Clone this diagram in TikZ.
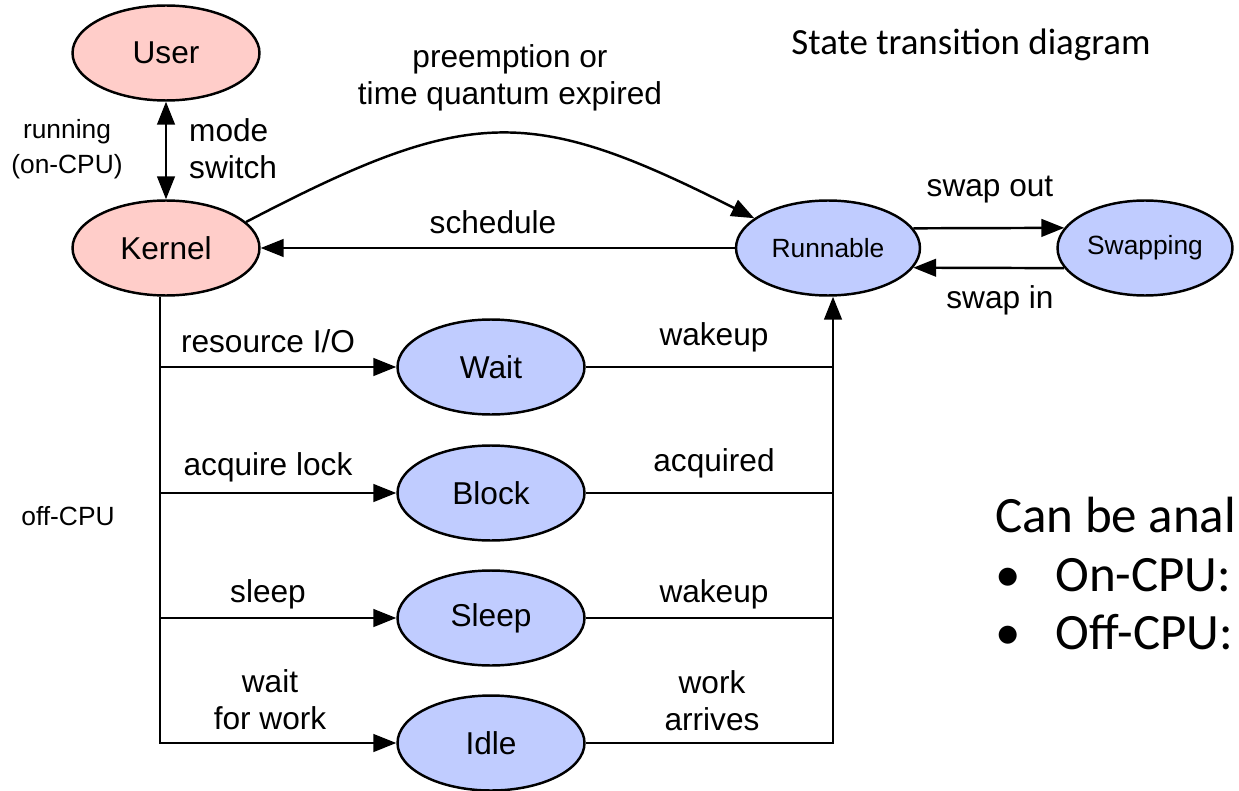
\documentclass[tikz,border=0pt]{standalone}
\usepackage{fontspec}
\setmainfont{Liberation Sans}
\newfontfamily\slidefont{Carlito}
\usepackage{xcolor}
\usetikzlibrary{shapes.geometric}
\usetikzlibrary{arrows.meta}
\definecolor{onpink}{RGB}{255,205,201}
\definecolor{offblue}{RGB}{192,204,255}

\begin{document}
\begin{tikzpicture}[x=0.02cm,y=-0.02cm,
    >={Triangle[length=13pt,width=10pt]},
    state/.style={ellipse,draw,line width=1.4pt,inner sep=0pt,
      minimum width=3.74cm,minimum height=1.9cm,font=\fontsize{18}{21}\selectfont},
    onstate/.style={state,fill=onpink},
    offstate/.style={state,fill=offblue},
    wire/.style={line width=1.4pt},
    lbl/.style={font=\fontsize{18}{21}\selectfont,align=center},
    small/.style={font=\fontsize{15}{20}\selectfont,align=center},
    slide/.style={font=\slidefont\fontsize{29}{35}\selectfont,anchor=base west,inner sep=0pt}]
        \useasboundingbox (0,0) rectangle (1239,790);

        % 状態
        \node[onstate] (User) at (166,53) {User};
        \node[onstate] (Kernel) at (166,248) {Kernel};
        \node[offstate,minimum width=3.68cm,font=\fontsize{15}{18}\selectfont] (Runnable) at (828,248) {Runnable};
        \node[offstate,minimum width=3.5cm,font=\fontsize{15}{18}\selectfont] (Swapping) at (1145,248) {Swapping};
        \node[offstate] (Wait) at (491,367) {Wait};
        \node[offstate] (Block) at (491,493) {Block};
        \node[offstate] (Sleep) at (491,618) {Sleep};
        \node[offstate] (Idle) at (491,743) {Idle};

        % --- on-CPU ---
        \draw[<->,wire] (User) -- (Kernel);
        \draw[->,wire] (Kernel.18) .. controls (470,105) and (530,105) .. (Runnable.158);
        \draw[->,wire] (Runnable) -- (Kernel);
        \draw[->,wire] (Runnable.13) -- (Swapping.166);
        \draw[->,wire] (Swapping.194) -- (Runnable.-13);

        % --- off-CPU ---
        \coordinate (trunk) at (160,743);
        \coordinate (bus) at (833,743);
        \draw[->,wire] (Kernel.south -| trunk) -- (trunk) -- (Idle);
        \draw[->,wire] (Idle) -- (bus) -- (Runnable.south -| bus);
        \foreach \s in {Wait,Block,Sleep} {
          \draw[->,wire] (trunk |- \s) -- (\s);
          \draw[wire] (\s) -- (bus |- \s);
        }

        % ラベル
        \node[small] (running) at (67,149) {running\\(on-CPU)};
        \node[lbl,align=left,anchor=west] (mode) at (183,149) {mode\\switch};
        \node[small] (offcpu) at (68,516) {off-CPU};
        \node[lbl] (preempt) at (510,78) {preemption or\\time quantum expired};
        \node[lbl] (sched) at (493,222) {schedule};
        \node[lbl] (swout) at (990,190) {swap out};
        \node[lbl] (swin) at (1000,300) {swap in};
        \node[lbl] (resio) at (268,341) {resource I/O};
        \node[lbl] (lock) at (268,467) {acquire lock};
        \node[lbl] (sleep) at (268,594) {sleep};
        \node[lbl] (waitw) at (270,700) {wait\\for work};
        \node[lbl] (wake1) at (714,337) {wakeup};
        \node[lbl] (acq) at (714,463) {acquired};
        \node[lbl] (wake2) at (714,594) {wakeup};
        \node[lbl] (arrive) at (712,701) {work\\arrives};

        % スライドの文字
        \node[font=\slidefont\fontsize{21}{25}\selectfont] (title) at (971,45) {State transition diagram};
        \node[slide] (can) at (995,532) {Can be anal};
        \node[slide] (b1) at (995,591) {•};
        \node[slide] (on) at (1055,591) {On-CPU:};
        \node[slide] (b2) at (995,649) {•};
        \node[slide] (off) at (1055,649) {Off-CPU:};
      \end{tikzpicture}
\end{document}
